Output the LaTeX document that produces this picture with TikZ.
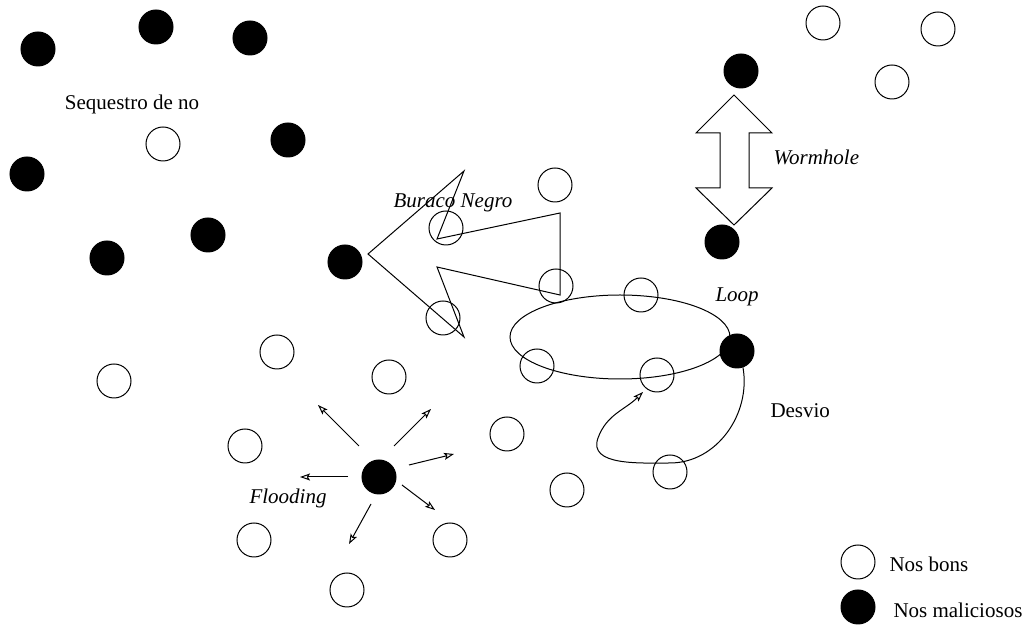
\documentclass[tikz,border=0pt]{standalone}
\usepackage{fontspec}
\setmainfont{Liberation Serif}
\usetikzlibrary{arrows.meta, calc}
\tikzset{
  every picture/.style={line width=0.5pt, font=\fontsize{10.5}{12}\selectfont},
  bom/.style={circle, draw, minimum size=17pt, inner sep=0pt},
  mal/.style={circle, draw, fill=black, minimum size=17pt, inner sep=0pt},
  rotulo/.style={inner sep=0pt},
  ataque/.style={rotulo, font=\fontsize{10.5}{12}\selectfont\itshape},
  flecha/.style={-{Stealth[open, length=5pt, width=3.5pt, inset=1pt]}},
}

\begin{document}
\begin{tikzpicture}[x=0.5pt, y=-0.5pt]
  \useasboundingbox (0,0) rectangle (1025,630);
  % nos bons
  \foreach \x/\y [count=\i] in {163/144, 823/23, 938/29, 892/82, 555/185, 446/228,
      556/286, 641/295, 443/318, 537/366, 657/375, 277/352, 389/377, 114/381,
      245/446, 507/434, 670/472, 567/490, 254/540, 450/540, 347/590}
    \node[bom] (b\i) at (\x,\y) {};
  % nos maliciosos
  \foreach \x/\y [count=\i] in {38/49, 156/27, 250/38, 288/140, 27/174, 208/235,
      107/258, 345/262, 741/71, 722/242}
    \node[mal] (m\i) at (\x,\y) {};
  \node[mal] (mloop) at (737,351) {};
  \node[mal] (mflood) at (379,477) {};

  % sequestro de no
  \node[rotulo] (seq) at (132,104) {Sequestro de no};

  % buraco negro
  \draw (368,254) -- (464,171) -- (437,239) -- (560,213) -- (560,295)
        -- (437,267) -- (464,337) -- cycle;
  \node[ataque] (bn) at (453,203) {Buraco Negro};

  % wormhole
  \draw (734,95) -- (772,133) -- (749,133) -- (749,188) -- (772,188) -- (734,225)
        -- (696,188) -- (720,188) -- (720,133) -- (696,133) -- cycle;
  \node[ataque, anchor=west] (wh) at (773,157) {Wormhole};

  % loop e desvio
  \draw (620,337) ellipse [x radius=110, y radius=42];
  \node[ataque, anchor=west] (lp) at (715,297) {Loop};
  \coordinate (fimdesvio) at (643,392);
  \draw[flecha] (mloop.-70) to[out=-80, in=0] (670,463)
        to[out=180, in=-110] (598,438) to[out=70, in=-135] (fimdesvio);
  \node[rotulo, anchor=west] (dv) at (770,411) {Desvio};

  % flooding
  \foreach \dx/\dy/\ex/\ey in {-20/-31/-61/-72, 15/-31/52/-68, 30/-12/75/-23,
      -31/0/-79/0, 23/8/56/33, -8/27/-30/67}
    \draw[flecha] (mflood) ++(\dx,\dy) -- ($(mflood)+(\ex,\ey)$);
  \node[ataque] (fl) at (288,498) {Flooding};

  % legenda
  \node[bom] (lbom) at (858,562) {};
  \node[rotulo, anchor=west] (tbom) at (889,564) {Nos bons};
  \node[mal] (lmal) at (858,607) {};
  \node[rotulo, anchor=west] (tmal) at (893,610) {Nos maliciosos};
\end{tikzpicture}
\end{document}
